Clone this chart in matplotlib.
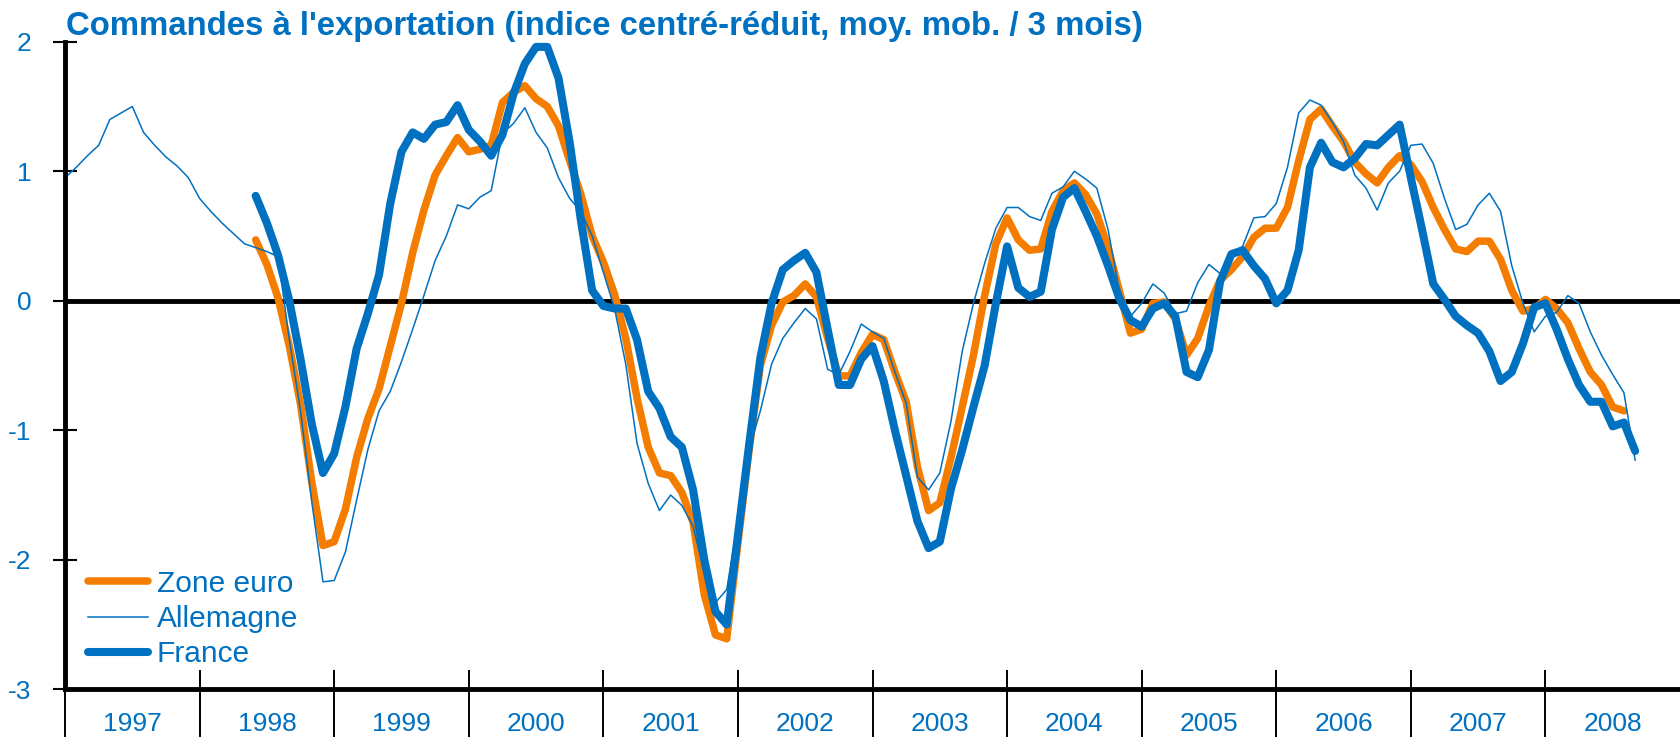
import numpy as np
import matplotlib.pyplot as plt

plt.rcParams['font.family'] = ['Liberation Sans', 'DejaVu Sans']

BLUE = '#0070C0'
ORANGE = '#F47D00'

TITLE = "Commandes à l'exportation (indice centré-réduit, moy. mob. / 3 mois)"
YEARS = list(range(1997, 2009))
Y_TICKS = [2, 1, 0, -1, -2, -3]
Y_LABELS = ['2', '1', '0', '-1', '-2', '-3']

# monthly series, index 0 = janvier 1997
ALLEMAGNE_START = 0
ALLEMAGNE = [
    0.95, 1.03, 1.12, 1.20, 1.40, 1.45, 1.50, 1.30, 1.20, 1.11, 1.04, 0.95,      # 1997
    0.79, 0.69, 0.60, 0.52, 0.44, 0.41, 0.38, 0.34, -0.30, -0.85, -1.55, -2.17,  # 1998
    -2.16, -1.94, -1.54, -1.15, -0.85, -0.70, -0.47, -0.22, 0.04, 0.31, 0.50, 0.74,
    0.71, 0.80, 0.85, 1.29, 1.37, 1.49, 1.30, 1.18, 0.95, 0.79, 0.69, 0.50,
    0.22, -0.06, -0.49, -1.10, -1.41, -1.62, -1.50, -1.58, -1.74, -2.10, -2.33, -2.23,
    -1.70, -1.15, -0.85, -0.49, -0.29, -0.17, -0.06, -0.14, -0.53, -0.57, -0.39, -0.18,
    -0.24, -0.29, -0.55, -0.79, -1.36, -1.46, -1.33, -0.93, -0.39, -0.02, 0.29, 0.56,
    0.72, 0.72, 0.65, 0.62, 0.83, 0.88, 1.00, 0.94, 0.87, 0.55, 0.08, -0.12,
    -0.02, 0.13, 0.06, -0.10, -0.08, 0.14, 0.28, 0.21, 0.34, 0.42, 0.64, 0.65,
    0.75, 1.03, 1.45, 1.55, 1.51, 1.38, 1.23, 0.97, 0.87, 0.70, 0.91, 1.00,
    1.20, 1.21, 1.06, 0.79, 0.55, 0.59, 0.74, 0.83, 0.69, 0.27, -0.02, -0.24,
    -0.12, -0.09, 0.04, -0.02, -0.24, -0.42, -0.57, -0.71, -1.23,                # 2008
]

EURO_START = 17  # juin 1998
ZONE_EURO = [
    0.47, 0.28, 0.02, -0.35, -0.80, -1.40, -1.89,
    -1.86, -1.61, -1.21, -0.91, -0.68, -0.35, -0.02, 0.37, 0.70, 0.97, 1.12, 1.26,
    1.15, 1.17, 1.20, 1.53, 1.61, 1.66, 1.56, 1.50, 1.35, 1.08, 0.82, 0.50,
    0.30, 0.05, -0.29, -0.75, -1.13, -1.33, -1.35, -1.48, -1.71, -2.27, -2.58, -2.61,
    -1.87, -1.15, -0.50, -0.19, -0.01, 0.04, 0.13, 0.03, -0.29, -0.58, -0.58, -0.40,
    -0.26, -0.30, -0.55, -0.78, -1.28, -1.62, -1.56, -1.21, -0.82, -0.42, 0.04, 0.44,
    0.64, 0.47, 0.39, 0.40, 0.69, 0.85, 0.91, 0.82, 0.67, 0.41, 0.08, -0.25,
    -0.22, -0.02, -0.01, -0.14, -0.42, -0.29, -0.04, 0.16, 0.24, 0.34, 0.49, 0.56,
    0.56, 0.72, 1.08, 1.40, 1.48, 1.35, 1.23, 1.07, 0.98, 0.91, 1.03, 1.12,
    1.05, 0.92, 0.72, 0.55, 0.40, 0.38, 0.46, 0.46, 0.32, 0.08, -0.08, -0.06,
    0.01, -0.06, -0.17, -0.37, -0.55, -0.65, -0.82, -0.85,
]

FRANCE_START = 17
FRANCE = [
    0.81, 0.60, 0.35, 0.00, -0.45, -0.95, -1.33,
    -1.18, -0.82, -0.37, -0.10, 0.20, 0.75, 1.15, 1.30, 1.25, 1.36, 1.38, 1.51,
    1.32, 1.23, 1.12, 1.28, 1.60, 1.83, 1.96, 1.96, 1.72, 1.22, 0.62, 0.08,
    -0.04, -0.06, -0.06, -0.30, -0.70, -0.83, -1.05, -1.13, -1.46, -2.00, -2.40, -2.50,
    -1.81, -1.11, -0.44, -0.02, 0.24, 0.31, 0.37, 0.22, -0.22, -0.65, -0.65, -0.45,
    -0.35, -0.62, -1.00, -1.35, -1.70, -1.91, -1.86, -1.45, -1.15, -0.82, -0.50, -0.02,
    0.42, 0.10, 0.03, 0.07, 0.55, 0.80, 0.87, 0.69, 0.50, 0.27, 0.02, -0.15,
    -0.20, -0.06, -0.02, -0.12, -0.55, -0.59, -0.38, 0.15, 0.36, 0.39, 0.27, 0.17,
    -0.02, 0.08, 0.39, 1.03, 1.22, 1.07, 1.03, 1.10, 1.21, 1.20, 1.28, 1.36,
    0.95, 0.55, 0.13, 0.01, -0.12, -0.19, -0.25, -0.39, -0.62, -0.55, -0.33, -0.05,
    -0.02, -0.22, -0.45, -0.65, -0.78, -0.78, -0.97, -0.94, -1.16,
]


def months(start, values):
    return np.arange(start, start + len(values))


fig = plt.figure(figsize=(16.8, 7.37), dpi=100)
ax = fig.add_axes([0.0387, 0.0647, 0.9613, 0.8787])

l_euro, = ax.plot(months(EURO_START, ZONE_EURO), ZONE_EURO, color=ORANGE, lw=5.4,
                  solid_capstyle='round', solid_joinstyle='round', label='Zone euro')
l_all, = ax.plot(months(ALLEMAGNE_START, ALLEMAGNE), ALLEMAGNE, color=BLUE, lw=1.1,
                 label='Allemagne')
l_fr, = ax.plot(months(FRANCE_START, FRANCE), FRANCE, color=BLUE, lw=5.8,
                solid_capstyle='round', solid_joinstyle='round', label='France')

ax.axhline(0, color='black', lw=3.5, zorder=1)

ax.set_xlim(0, 12 * len(YEARS))
ax.set_ylim(-3, 2)

for s in ['top', 'right']:
    ax.spines[s].set_visible(False)
for s in ['left', 'bottom']:
    ax.spines[s].set_linewidth(3.5)

ax.set_yticks(Y_TICKS, Y_LABELS)
ax.tick_params(axis='y', direction='inout', length=16.6, width=1.5, color='black',
               labelcolor=BLUE, labelsize=19, pad=16)
ax.set_xticks([])

# year separators and labels
xt = ax.get_xaxis_transform()
bounds = [12 * i for i in range(len(YEARS))]
ax.vlines(bounds, -0.074, 0.03, transform=xt, color='black', lw=1.4, clip_on=False)
for i, yr in enumerate(YEARS):
    ax.text(12 * i + 6, -0.054, str(yr), transform=xt, ha='center', va='center',
            color=BLUE, fontsize=19)

fig.text(66 / 1680, 1 - 35 / 737, TITLE, fontsize=23.7, fontweight='bold', color=BLUE,
         ha='left', va='baseline')

ax.legend(handles=[l_euro, l_all, l_fr], loc='upper left', bbox_to_anchor=(0.0142, 0.185),
          frameon=False, fontsize=21.5, labelcolor=BLUE, handlelength=2.0,
          handletextpad=0.3, labelspacing=0.25, borderpad=0, borderaxespad=0)

fig.savefig('out.png', dpi=100)
